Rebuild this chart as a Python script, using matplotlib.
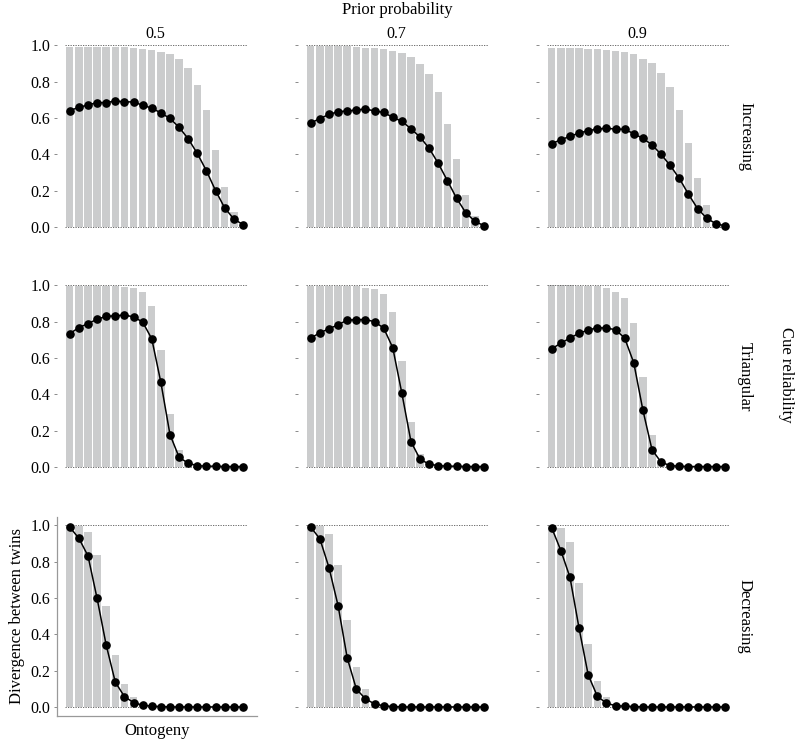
import numpy as np
import matplotlib
matplotlib.use("Agg")
from matplotlib import pyplot as plt

plt.rcParams['font.family'] = ['Liberation Serif', 'DejaVu Serif']

priors = ["0.5", "0.7", "0.9"]
shapes = ["Increasing", "Triangular", "Decreasing"]

# grey bars (per panel), black line with dots (per panel)
inc_05_bar = [0.99, 0.99, 0.99, 0.99, 0.99, 0.99, 0.99, 0.987, 0.98, 0.974,
              0.965, 0.95, 0.923, 0.873, 0.781, 0.643, 0.425, 0.219, 0.081, 0.0]
inc_05_line = [0.64, 0.658, 0.671, 0.684, 0.684, 0.693, 0.688, 0.688, 0.669, 0.654,
               0.627, 0.597, 0.548, 0.485, 0.404, 0.309, 0.2, 0.105, 0.044, 0.013]
inc_07_bar = [0.993, 0.993, 0.993, 0.993, 0.993, 0.991, 0.987, 0.983, 0.978, 0.969,
              0.958, 0.936, 0.899, 0.84, 0.743, 0.566, 0.371, 0.178, 0.062, 0.0]
inc_07_line = [0.572, 0.596, 0.619, 0.634, 0.638, 0.643, 0.649, 0.638, 0.63, 0.603,
               0.581, 0.54, 0.494, 0.432, 0.349, 0.254, 0.158, 0.079, 0.031, 0.007]
inc_09_bar = [0.983, 0.983, 0.983, 0.982, 0.98, 0.978, 0.972, 0.967, 0.96, 0.95,
              0.926, 0.903, 0.846, 0.768, 0.643, 0.461, 0.268, 0.119, 0.012, 0.0]
inc_09_line = [0.458, 0.48, 0.498, 0.517, 0.529, 0.539, 0.542, 0.539, 0.537, 0.513,
               0.487, 0.452, 0.399, 0.338, 0.267, 0.18, 0.101, 0.048, 0.018, 0.006]

tri_05_bar = [0.996, 0.996, 0.996, 0.996, 0.996, 0.996, 0.99, 0.983, 0.965, 0.888,
              0.645, 0.293, 0.095, 0.01, 0, 0, 0, 0, 0, 0]
tri_05_line = [0.733, 0.767, 0.788, 0.813, 0.828, 0.832, 0.835, 0.826, 0.797, 0.705,
               0.465, 0.178, 0.053, 0.02, 0.007, 0.004, 0.004, 0.002, 0.002, 0.002]
tri_07_bar = [0.998, 0.998, 0.998, 0.998, 0.998, 0.998, 0.987, 0.978, 0.95, 0.855,
              0.581, 0.247, 0.073, 0.005, 0, 0, 0, 0, 0, 0]
tri_07_line = [0.709, 0.738, 0.76, 0.782, 0.808, 0.81, 0.811, 0.799, 0.764, 0.656,
               0.405, 0.139, 0.042, 0.015, 0.007, 0.004, 0.004, 0.002, 0.002, 0.002]
tri_09_bar = [1.0, 1.0, 1.0, 0.998, 0.996, 0.993, 0.982, 0.965, 0.929, 0.793,
              0.493, 0.174, 0.037, 0, 0, 0, 0, 0, 0, 0]
tri_09_line = [0.65, 0.681, 0.709, 0.736, 0.753, 0.766, 0.764, 0.755, 0.709, 0.573,
               0.313, 0.095, 0.026, 0.007, 0.004, 0.002, 0.002, 0.002, 0.002, 0.002]

dec_05_bar = [1.0, 0.998, 0.965, 0.836, 0.557, 0.287, 0.127, 0.053, 0.01, 0,
              0, 0, 0, 0, 0, 0, 0, 0, 0, 0]
dec_05_line = [0.989, 0.928, 0.831, 0.597, 0.34, 0.136, 0.057, 0.024, 0.009, 0.004,
               0.002, 0, 0, 0, 0, 0, 0, 0, 0, 0]
dec_07_bar = [1.0, 0.994, 0.949, 0.779, 0.476, 0.217, 0.096, 0.024, 0, 0,
              0, 0, 0, 0, 0, 0, 0, 0, 0, 0]
dec_07_line = [0.989, 0.925, 0.767, 0.557, 0.27, 0.099, 0.044, 0.017, 0.006, 0.002,
               0, 0, 0, 0, 0, 0, 0, 0, 0, 0]
dec_09_bar = [1.0, 0.985, 0.908, 0.682, 0.346, 0.14, 0.055, 0.01, 0, 0,
              0, 0, 0, 0, 0, 0, 0, 0, 0, 0]
dec_09_line = [0.985, 0.86, 0.713, 0.432, 0.176, 0.059, 0.02, 0.007, 0.004, 0.002,
               0, 0, 0, 0, 0, 0, 0, 0, 0, 0]

yticks = [0, 0.2, 0.4, 0.6, 0.8, 1.0]
ytick_labels = ["0.0", "0.2", "0.4", "0.6", "0.8", "1.0"]

bars = [[inc_05_bar, inc_07_bar, inc_09_bar],
        [tri_05_bar, tri_07_bar, tri_09_bar],
        [dec_05_bar, dec_07_bar, dec_09_bar]]
lines = [[inc_05_line, inc_07_line, inc_09_line],
         [tri_05_line, tri_07_line, tri_09_line],
         [dec_05_line, dec_07_line, dec_09_line]]

W, H = 796, 739
fig = plt.figure(figsize=(W / 100, H / 100), dpi=100)

lefts = [57, 298, 539]
tops = [37, 277, 517]
aw, ah = 200, 199

for r in range(3):
    for c in range(3):
        ax = fig.add_axes([lefts[c] / W, 1 - (tops[r] + ah) / H, aw / W, ah / H])
        x = np.arange(len(bars[r][c]))
        ax.bar(x, bars[r][c], width=0.82, color="#cbcccd", zorder=1)
        ax.hlines([0, 1], -0.5, 19.5, colors="#555555", linestyles=(0, (1.5, 1.5)),
                  lw=0.6, zorder=2)
        ax.plot(x, lines[r][c], color="black", lw=1.1, marker="o", ms=5.2, zorder=3)
        ax.set_xlim(-1.4, 20.55)
        ax.set_ylim(-0.05, 1.045)
        ax.set_xticks([])
        ax.set_yticks(yticks)
        ax.tick_params(axis="y", length=2, width=0.6, color="#777777", pad=3)
        for s in ["top", "right"]:
            ax.spines[s].set_visible(False)
        if c == 0:
            ax.set_yticklabels(ytick_labels, fontsize=11.5)
        else:
            ax.set_yticklabels([])
        if r == 2 and c == 0:
            for s in ["left", "bottom"]:
                ax.spines[s].set_color("#999999")
                ax.spines[s].set_linewidth(0.9)
            ax.set_ylabel("Divergence between twins", fontsize=12, labelpad=4)
            ax.set_xlabel("Ontogeny", fontsize=12, labelpad=5)
        else:
            ax.spines["left"].set_visible(False)
            ax.spines["bottom"].set_visible(False)
        if r == 0:
            fig.text((lefts[c] + aw / 2 - 2) / W, 1 - 34 / H, priors[c],
                     ha="center", va="center", fontsize=11.5)
        if c == 2:
            ax.text(1.03, 0.5, shapes[r], transform=ax.transAxes, rotation=270,
                    ha="center", va="center", fontsize=12)

fig.text(397 / W, 1 - 10 / H, "Prior probability", ha="center", va="center", fontsize=12)
fig.text(786 / W, 1 - 375 / H, "Cue reliability", ha="center", va="center",
         rotation=270, fontsize=12)

fig.savefig("out.png", dpi=100)
